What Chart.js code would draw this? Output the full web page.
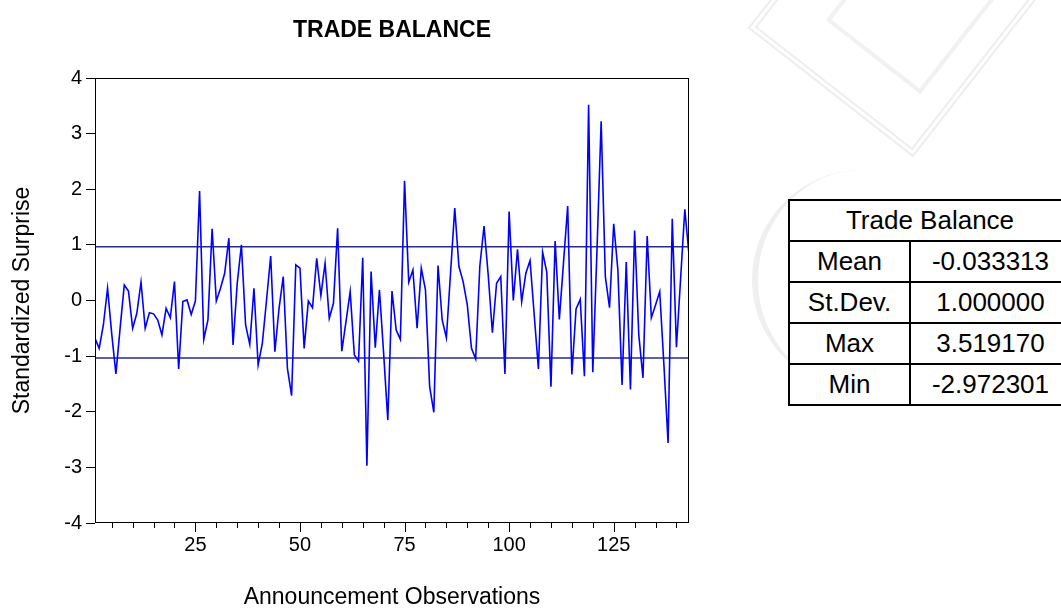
<!DOCTYPE html>
<html lang="en">
  <head>
    <meta charset="UTF-8" />
    <title>Trade Balance</title>
    <script src="https://cdn.jsdelivr.net/npm/chart.js"></script>
    <style>
      body {
        margin: 0;
        background: #fff;
        overflow: hidden;
        font-family: "Liberation Sans", Arial, sans-serif;
      }
      #wrap {
        position: relative;
        width: 1061px;
        height: 610px;
        overflow: hidden;
      }
      #myChart {
        position: absolute;
        left: 0;
        top: 0;
      }
      /* faint logo watermark behind the table */
      .mark {
        position: absolute;
        box-sizing: border-box;
      }
      #mark1 {
        left: 790px;
        top: -95px;
        width: 210px;
        height: 210px;
        border: 7px double #eeeeee;
        transform: rotate(38deg);
      }
      #mark2 {
        left: 850px;
        top: -50px;
        width: 120px;
        height: 120px;
        border: 4px solid #f1f1f1;
        transform: rotate(38deg);
      }
      #mark3 {
        left: 752px;
        top: 170px;
        width: 220px;
        height: 220px;
        border-left: 6px solid #efefef;
        border-radius: 50%;
      }
      #stats {
        position: absolute;
        left: 788px;
        top: 199px;
        width: 284px;
        border-collapse: collapse;
        font-size: 26px;
        color: #000;
        background: #fff;
      }
      #stats td,
      #stats th {
        border: 2px solid #000;
        height: 39px;
        padding: 0;
        text-align: center;
        font-weight: normal;
      }
      #stats td:first-child {
        width: 119px;
      }
    </style>
  </head>

  <body>
    <div id="wrap">
      <div class="mark" id="mark3"></div>
      <div class="mark" id="mark1"></div>
      <div class="mark" id="mark2"></div>
      <canvas id="myChart" width="1061" height="610"></canvas>
      <table id="stats"></table>
    </div>

    <script>
      // standardized surprises, one per announcement
      const surprises = [
        -0.68, -0.86, -0.44, 0.22, -0.6, -1.32, -0.5, 0.28, 0.17, -0.5,
        -0.23, 0.33, -0.5, -0.22, -0.24, -0.35, -0.62, -0.14, -0.31, 0.34,
        -1.23, -0.02, 0.01, -0.25, -0.01, 1.97, -0.7, -0.35, 1.29, -0.01,
        0.22, 0.49, 1.12, -0.8, 0.31, 1.0, -0.44, -0.79, 0.22, -1.16,
        -0.77, 0.0, 0.8, -0.92, -0.14, 0.43, -1.22, -1.71, 0.64, 0.58,
        -0.86, -0.01, -0.13, 0.76, 0.09, 0.67, -0.32, -0.05, 1.3, -0.91,
        -0.38, 0.16, -0.98, -1.09, 0.77, -2.97, 0.52, -0.85, 0.19, -0.95,
        -2.15, 0.17, -0.53, -0.7, 2.15, 0.33, 0.55, -0.5, 0.58, 0.19,
        -1.55, -2.01, 0.63, -0.35, -0.67, 0.5, 1.66, 0.61, 0.34, -0.08,
        -0.86, -1.05, 0.62, 1.34, 0.46, -0.58, 0.31, 0.43, -1.32, 1.6,
        0.0, 0.92, -0.02, 0.49, 0.72, -0.26, -1.23, 0.87, 0.51, -1.55,
        1.07, -0.34, 0.68, 1.7, -1.33, -0.15, 0.02, -1.36, 3.52, -1.29,
        0.9, 3.22, 0.43, -0.13, 1.38, 0.55, -1.52, 0.69, -1.6, 1.26,
        -0.62, -1.39, 1.16, -0.31, -0.08, 0.16, -1.15, -2.56, 1.47, -0.84,
        0.4, 1.64, 0.82,
      ];

      const statLabels = ["Mean", "St.Dev.", "Max", "Min"];
      const statValues = ["-0.033313", "1.000000", "3.519170", "-2.972301"];
      const meanValue = -0.033313;
      const sdValue = 1.0;

      const xTickValues = [
        5, 10, 15, 20, 25, 30, 35, 40, 45, 50, 55, 60, 65, 70, 75, 80, 85, 90,
        95, 100, 105, 110, 115, 120, 125, 130, 135, 140,
      ];
      const xLabelValues = [25, 50, 75, 100, 125];
      const yTickValues = [-4, -3, -2, -1, 0, 1, 2, 3, 4];

      const fontFamily = "'Liberation Sans', Arial, sans-serif";

      // stats table
      const table = document.getElementById("stats");
      let rows = '<tr><th colspan="2">Trade Balance</th></tr>';
      for (let i = 0; i < statLabels.length; i++) {
        rows += "<tr><td>" + statLabels[i] + "</td><td>" + statValues[i] + "</td></tr>";
      }
      table.innerHTML = rows;

      const points = surprises.map((v, i) => ({ x: i + 1, y: v }));
      const first = 1;
      const last = surprises.length;

      // title over the plot, box round the plot, x tick marks (long ones under labels)
      const framePlugin = {
        id: "frame",
        afterDraw(chart) {
          const { ctx, chartArea: a } = chart;
          const x = chart.scales.x;
          ctx.save();
          ctx.fillStyle = "#000";
          ctx.font = "bold 23px " + fontFamily;
          ctx.textAlign = "center";
          ctx.textBaseline = "middle";
          ctx.fillText("TRADE BALANCE", (a.left + a.right) / 2, 31);

          ctx.strokeStyle = "#000";
          ctx.lineWidth = 1;
          ctx.strokeRect(a.left + 0.5, a.top + 0.5, a.right - a.left - 1, a.bottom - a.top - 1);
          ctx.beginPath();
          for (const v of xTickValues) {
            const px = Math.round(x.getPixelForValue(v)) + 0.5;
            const len = xLabelValues.includes(v) ? 9 : 5;
            ctx.moveTo(px, a.bottom);
            ctx.lineTo(px, a.bottom + len);
          }
          ctx.stroke();
          ctx.restore();
        },
      };

      const ctx = document.getElementById("myChart").getContext("2d");
      const myChart = new Chart(ctx, {
        type: "line",
        data: {
          datasets: [
            {
              data: points,
              borderColor: "#0000ff",
              borderWidth: 1.6,
              pointRadius: 0,
              tension: 0,
              order: 0,
            },
            {
              data: [
                { x: first, y: meanValue + sdValue },
                { x: last, y: meanValue + sdValue },
              ],
              borderColor: "#2a2a8c",
              borderWidth: 1.3,
              pointRadius: 0,
              order: 1,
            },
            {
              data: [
                { x: first, y: meanValue - sdValue },
                { x: last, y: meanValue - sdValue },
              ],
              borderColor: "#2a2a8c",
              borderWidth: 1.3,
              pointRadius: 0,
              order: 1,
            },
          ],
        },
        options: {
          responsive: false,
          animation: false,
          layout: { padding: { left: 0, right: 372, top: 78, bottom: 0 } },
          scales: {
            x: {
              type: "linear",
              min: first,
              max: last,
              afterBuildTicks: (scale) => {
                scale.ticks = xTickValues.map((v) => ({ value: v }));
              },
              afterFit: (scale) => {
                scale.height = 87;
              },
              ticks: {
                autoSkip: false,
                maxRotation: 0,
                padding: 10,
                color: "#000",
                font: { family: fontFamily, size: 20 },
                callback: (v) => (xLabelValues.includes(v) ? String(v) : ""),
              },
              grid: { display: false, drawTicks: false },
              border: { display: false },
              title: {
                display: true,
                text: "Announcement Observations",
                color: "#000",
                font: { family: fontFamily, size: 23, lineHeight: 1.1 },
                padding: { top: 0, bottom: 0 },
              },
            },
            y: {
              min: -4,
              max: 4,
              afterBuildTicks: (scale) => {
                scale.ticks = yTickValues.map((v) => ({ value: v }));
              },
              afterFit: (scale) => {
                scale.width = 95;
              },
              ticks: {
                padding: 4,
                color: "#000",
                font: { family: fontFamily, size: 20 },
              },
              grid: {
                drawOnChartArea: false,
                drawTicks: true,
                tickLength: 9,
                color: "#000",
              },
              border: { display: false },
              title: {
                display: true,
                text: "Standardized Surprise",
                color: "#000",
                font: { family: fontFamily, size: 23 },
                padding: { top: 9, bottom: 0 },
              },
            },
          },
          plugins: {
            legend: { display: false },
            tooltip: { enabled: false },
            title: { display: false },
          },
        },
        plugins: [framePlugin],
      });
    </script>
  </body>
</html>
